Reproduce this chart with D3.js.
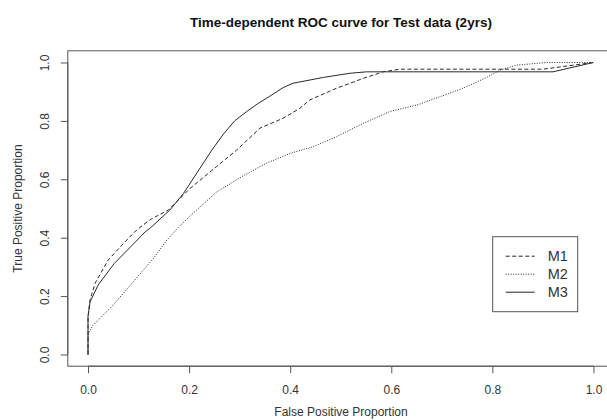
<!DOCTYPE html>
<meta charset="utf-8">
<style>

body {
  margin: 0;
  background: #fff;
}

text {
  font-family: "Liberation Sans", Arial, sans-serif;
  fill: #333;
}

.axis path, .axis line {
  stroke: #555;
}

.curve {
  fill: none;
  stroke: #2a2a2a;
  stroke-width: 1px;
  stroke-linejoin: round;
}

</style>
<body>
<script src="https://cdnjs.cloudflare.com/ajax/libs/d3/7.8.5/d3.min.js"></script>
<script>

var width = 607,
    height = 420;

var ticks = [0, 0.2, 0.4, 0.6, 0.8, 1.0];

var seriesNames = ["M1", "M2", "M3"];

// [false positive, true positive]
var m1 = [[0, 0], [0, 0.13], [0.004, 0.187], [0.014, 0.244], [0.04, 0.324], [0.07, 0.38],
  [0.096, 0.426], [0.123, 0.462], [0.159, 0.495], [0.202, 0.569], [0.254, 0.643],
  [0.294, 0.70], [0.34, 0.775], [0.386, 0.809], [0.419, 0.843], [0.439, 0.872],
  [0.492, 0.912], [0.545, 0.946], [0.584, 0.968], [0.617, 0.977], [0.9, 0.977], [1, 1]];

var m2 = [[0, 0], [0, 0.07], [0.01, 0.1], [0.05, 0.17], [0.09, 0.25], [0.13, 0.33],
  [0.156, 0.392], [0.179, 0.436], [0.208, 0.484], [0.254, 0.556], [0.307, 0.612],
  [0.353, 0.655], [0.40, 0.689], [0.446, 0.712], [0.492, 0.746], [0.545, 0.792],
  [0.597, 0.832], [0.65, 0.854], [0.716, 0.895], [0.749, 0.917], [0.79, 0.95],
  [0.815, 0.974], [0.848, 0.991], [0.907, 1.0], [1, 1]];

var m3 = [[0, 0], [0, 0.13], [0.004, 0.18], [0.02, 0.238], [0.052, 0.312], [0.085, 0.37],
  [0.113, 0.42], [0.123, 0.433], [0.162, 0.495], [0.189, 0.552], [0.228, 0.655],
  [0.245, 0.70], [0.268, 0.755], [0.29, 0.80], [0.314, 0.832], [0.335, 0.858],
  [0.36, 0.885], [0.386, 0.914], [0.406, 0.929], [0.466, 0.949], [0.518, 0.963],
  [0.551, 0.968], [0.92, 0.968], [1, 1]];

var series = [m1, m2, m3],
    dashes = ["4,2.5", "1,1.5", null];

var x = d3.scaleLinear()
    .domain([-0.04, 1.04])
    .range([67.8, 613.7]);

var y = d3.scaleLinear()
    .domain([-0.04, 1.04])
    .range([366.2, 50.8]);

var svg = d3.select("body").append("svg")
    .attr("width", width)
    .attr("height", height);

// plot box (runs off the right edge like the original)
svg.append("rect")
    .attr("x", x(-0.04))
    .attr("y", y(1.04))
    .attr("width", x(1.04) - x(-0.04))
    .attr("height", y(-0.04) - y(1.04))
    .attr("fill", "none")
    .attr("stroke", "#555");

var xAxis = svg.append("g")
    .attr("class", "axis")
    .attr("transform", "translate(0," + y(-0.04) + ")")
    .call(d3.axisBottom(x).tickValues(ticks).tickSize(7).tickPadding(12).tickFormat(d3.format(".1f")));

xAxis.selectAll("text").style("font-size", "12px").attr("fill", "#333");
xAxis.select(".domain").attr("d", "M" + x(0) + ",0H" + x(1));

var yAxis = svg.append("g")
    .attr("class", "axis")
    .attr("transform", "translate(" + x(-0.04) + ",0)")
    .call(d3.axisLeft(y).tickValues(ticks).tickSize(7).tickFormat(d3.format(".1f")));

yAxis.select(".domain").attr("d", "M0," + y(0) + "V" + y(1));
yAxis.selectAll("text")
    .style("font-size", "12px")
    .attr("fill", "#333")
    .attr("x", null)
    .attr("dy", null)
    .attr("text-anchor", "middle")
    .attr("transform", "translate(-19,0) rotate(-90)");

var line = d3.line()
    .x(function(d) { return x(d[0]); })
    .y(function(d) { return y(d[1]); });

svg.selectAll(".curve")
    .data(series)
  .enter().append("path")
    .attr("class", "curve")
    .attr("stroke-dasharray", function(d, i) { return dashes[i]; })
    .attr("d", line);

svg.append("text")
    .attr("x", 341)
    .attr("y", 27)
    .attr("text-anchor", "middle")
    .style("font-size", "13.5px")
    .style("font-weight", "bold")
    .style("fill", "#111")
    .text("Time-dependent ROC curve for Test data (2yrs)");

svg.append("text")
    .attr("x", 341)
    .attr("y", 416)
    .attr("text-anchor", "middle")
    .style("font-size", "12px")
    .text("False Positive Proportion");

svg.append("text")
    .attr("transform", "translate(22," + y(0.5) + ") rotate(-90)")
    .attr("text-anchor", "middle")
    .style("font-size", "12px")
    .text("True Positive Proportion");

// legend
var legend = svg.append("g")
    .attr("transform", "translate(492.7,236.7)");

legend.append("rect")
    .attr("width", 85)
    .attr("height", 75)
    .attr("fill", "#fff")
    .attr("stroke", "#555");

var entries = legend.selectAll(".entry")
    .data(seriesNames)
  .enter().append("g")
    .attr("class", "entry")
    .attr("transform", function(d, i) { return "translate(0," + (19.5 + i * 18) + ")"; });

entries.append("line")
    .attr("x1", 13)
    .attr("x2", 42)
    .attr("stroke", "#222")
    .attr("stroke-dasharray", function(d, i) { return dashes[i]; });

entries.append("text")
    .attr("x", 55)
    .attr("dy", "0.36em")
    .style("font-size", "14.5px")
    .text(function(d) { return d; });

</script>
